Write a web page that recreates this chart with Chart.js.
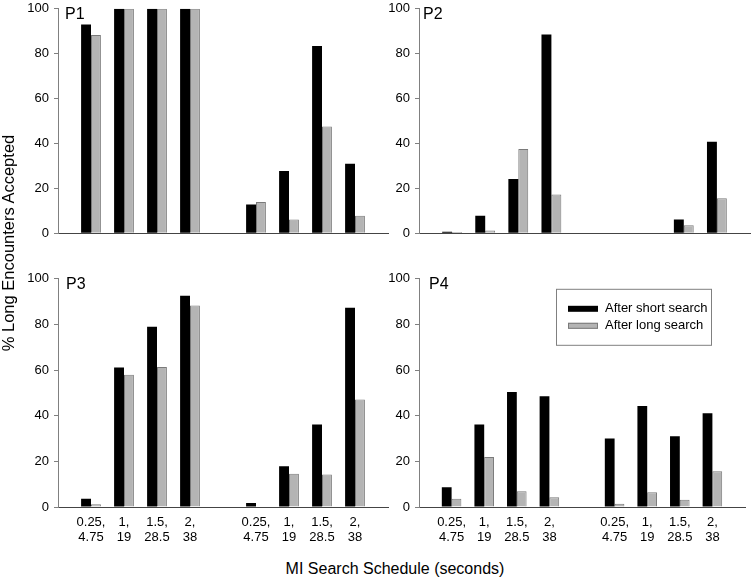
<!DOCTYPE html>
<html>
<head>
<meta charset="utf-8">
<script src="https://cdn.jsdelivr.net/npm/chart.js@4/dist/chart.umd.min.js"></script>
<style>
	body { margin: 0; background: #fff; width: 753px; height: 579px; overflow: hidden; position: relative; font-family: Arial, "Liberation Sans", sans-serif; }
	canvas { position: absolute; }
	.plabel { position: absolute; font-size: 16px; line-height: 16px; color: #000; }
	.title { position: absolute; font-size: 16px; line-height: 16px; color: #000; text-align: center; white-space: nowrap; }
</style>
</head>
<body>
<canvas id="p1" width="400" height="250" style="left:0px;top:-4px"></canvas>
<canvas id="p2" width="392" height="250" style="left:361px;top:-4px"></canvas>
<canvas id="p3" width="400" height="281" style="left:0px;top:266px"></canvas>
<canvas id="p4" width="392" height="281" style="left:361px;top:266px"></canvas>

<div class="plabel" style="left:65px;top:6px">P1</div>
<div class="plabel" style="left:423px;top:6px">P2</div>
<div class="plabel" style="left:66px;top:276px">P3</div>
<div class="plabel" style="left:429px;top:276px">P4</div>

<div class="title" style="left:-142px;top:235px;width:300px;font-size:16.5px;transform:rotate(-90deg)">% Long Encounters Accepted</div>
<div class="title" style="left:195px;top:561px;width:400px">MI Search Schedule (seconds)</div>

<script>
// schedule labels (interval, long-encounter duration)
const groupLabels = [['0.25,', '4.75'], ['1,', '19'], ['1.5,', '28.5'], ['2,', '38']]
const seriesNames = ['After short search', 'After long search']
const yTicks = [0, 20, 40, 60, 80, 100]

// % long encounters accepted, 8 conditions per panel
const p1Short = [93, 100, 100, 100, 12.8, 27.7, 83.4, 30.9]
const p1Long = [88.3, 100, 100, 100, 13.9, 6.1, 47.6, 7.8]
const p2Short = [0.6, 7.8, 24.2, 88.6, 0, 0, 6.1, 40.8]
const p2Long = [0.5, 1.2, 37.5, 17.3, 0, 0, 3.5, 15.6]
const p3Short = [3.6, 61.1, 79.0, 92.6, 1.7, 17.9, 36.1, 87.3]
const p3Long = [1.2, 57.9, 61.4, 88.3, 0, 14.6, 14.2, 47.1]
const p4Short = [8.6, 36.1, 50.4, 48.5, 30.0, 44.3, 31.0, 41.1]
const p4Long = [3.6, 21.9, 6.9, 4.3, 1.4, 6.5, 3.2, 15.7]

const FONT = 'Arial, "Liberation Sans", sans-serif'
const BLACK = '#000000'
const GREY = '#b4b4b4'

// empty slot at both ends and between the two blocks
function slots(vals){
	return [null, ...vals.slice(0, 4), null, ...vals.slice(4), null]
}
const slotLabels = ['', ...groupLabels, '', ...groupLabels, '']

const boxLegend = {
	id: 'boxLegend',
	afterDraw(chart, args, opts){
		if(!opts.show) return
		const ctx = chart.ctx
		const ca = chart.chartArea
		const x = ca.left + 137, y = ca.top + 10
		ctx.save()
		ctx.strokeStyle = '#808080'
		ctx.lineWidth = 1
		ctx.strokeRect(x + 0.5, y + 0.5, 155, 56)
		ctx.font = '13px ' + FONT
		ctx.textBaseline = 'middle'
		chart.data.datasets.forEach((d, i) => {
			const cy = y + 20 + i * 17
			ctx.fillStyle = d.backgroundColor
			ctx.fillRect(x + 12, cy - 3, 30, 6)
			if(d.borderColor != d.backgroundColor){
				ctx.strokeStyle = d.borderColor
				ctx.strokeRect(x + 12.5, cy - 2.5, 29, 5)
			}
			ctx.fillStyle = '#000'
			ctx.fillText(d.label, x + 49, cy)
		})
		ctx.restore()
	}
}

function makePanel(id, shortVals, longVals, showLabels, showLegend, padRight){
	return new Chart(id, {
		type: 'bar',
		data: {
			labels: slotLabels,
			datasets: [{
				label: seriesNames[0],
				data: slots(shortVals),
				backgroundColor: BLACK,
				borderColor: BLACK,
				borderWidth: 0
			}, {
				label: seriesNames[1],
				data: slots(longVals),
				backgroundColor: GREY,
				borderColor: '#7a7a7a',
				borderWidth: 1
			}]
		},
		plugins: [boxLegend],
		options: {
			responsive: false,
			animation: false,
			devicePixelRatio: 1,
			layout: { padding: { left: 0, right: padRight, top: 10, bottom: 0 } },
			datasets: { bar: { categoryPercentage: 0.6, barPercentage: 1.0 } },
			scales: {
				x: {
					offset: false,
					grid: { display: false, drawTicks: false },
					border: { display: true, color: '#444444', width: 1 },
					ticks: {
						display: showLabels,
						autoSkip: false,
						maxRotation: 0,
						padding: 8,
						color: '#000',
						font: { family: FONT, size: 13, lineHeight: '15px' }
					},
					afterFit(scale){ scale.height = showLabels ? 40 : 9 }
				},
				y: {
					min: 0,
					max: 100,
					afterBuildTicks(scale){ scale.ticks = yTicks.map(v => ({ value: v })) },
					grid: { drawOnChartArea: false, drawTicks: true, tickLength: 4, color: '#808080' },
					border: { display: true, color: '#808080', width: 1 },
					ticks: {
						padding: 5,
						color: '#000',
						font: { family: FONT, size: 13 }
					},
					afterFit(scale){ scale.width = 58 }
				}
			},
			plugins: {
				legend: { display: false },
				tooltip: { enabled: false },
				boxLegend: { show: showLegend }
			}
		}
	})
}

makePanel('p1', p1Short, p1Long, false, false, 12)
makePanel('p2', p2Short, p2Long, false, false, 3)
makePanel('p3', p3Short, p3Long, true, false, 12)
makePanel('p4', p4Short, p4Long, true, true, 3)
</script>
</body>
</html>
